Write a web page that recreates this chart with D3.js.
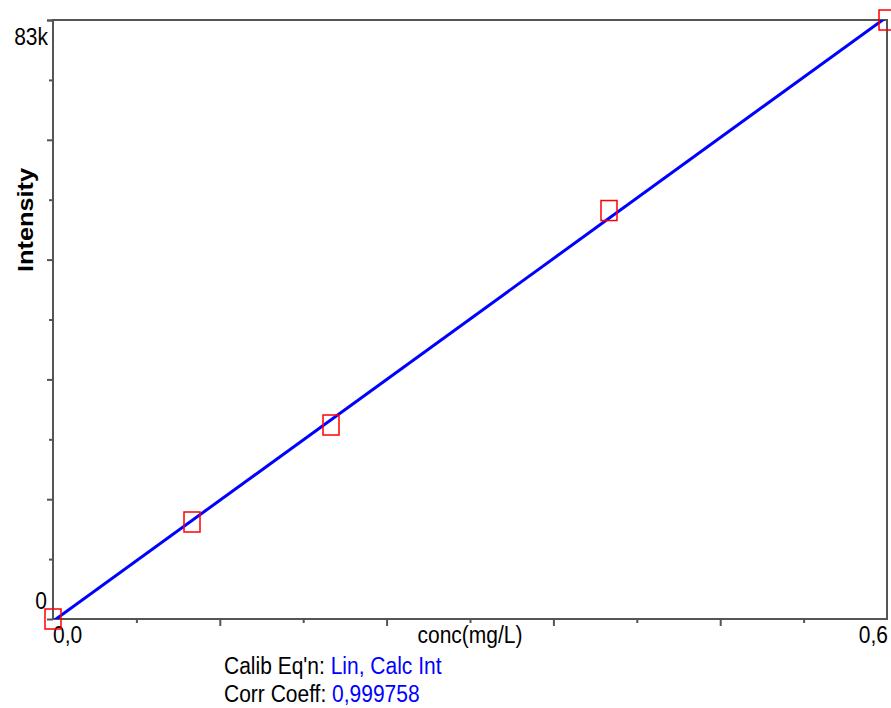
<!DOCTYPE html>
<html>
<head>
<meta charset="utf-8">
<script src="https://cdn.jsdelivr.net/npm/d3@7"></script>
<style>
    body { margin: 0; background: #fff; }
    text { font-family: "Liberation Sans", Arial, sans-serif; }
</style>
</head>
<body>
<svg id="vis"></svg>
<script>

// calibration standards
var concs = [0, 0.1, 0.2, 0.4, 0.6];
var intensities = [0, 13440, 26880, 56600, 83000];

var xTickLabels = ["0,0", "0,6"];
var yTickLabels = ["0", "83k"];
var xTitle = "conc(mg/L)";
var yTitle = "Intensity";

var infoLabels = ["Calib Eq'n: ", "Corr Coeff: "];
var infoValues = ["Lin, Calc Int", "0,999758"];


function calib_vis(){

    var width = 891,
        height = 708,
        margin = {top: 20, right: 4, bottom: 89, left: 53},
        stretch = 1.12;   // the instrument font is a bit taller than arial

    var svg = d3.select("#vis")
        .attr("width", width)
        .attr("height", height);

    //scales
    var x = d3.scaleLinear()
        .domain([0, 0.6])
        .range([margin.left, width - margin.right]);
    var y = d3.scaleLinear()
        .domain([0, 83000])
        .range([height - margin.bottom, margin.top]);

    var x0 = x.range()[0], x1 = x.range()[1],
        y0 = y.range()[0], y1 = y.range()[1];

    svg.append("defs")
        .append("clipPath")
        .attr("id", "clip")
        .append("rect")
        .attr("x", x0)
        .attr("y", y1)
        .attr("width", x1 - x0)
        .attr("height", y0 - y1);

    //ticks: every 0.06 / 8300, long ones every second step
    var xStep = 0.06, yStep = 8300;
    var xMinor = d3.range(1, 10, 2).map(function(i) {return i * xStep;});
    var xMajor = d3.range(2, 10, 2).map(function(i) {return i * xStep;});
    var yMinor = d3.range(1, 10, 2).map(function(i) {return i * yStep;});
    var yMajor = d3.range(0, 11, 2).map(function(i) {return i * yStep;}).concat([83000]);

    function tickAxis(axis, vals, size, tr){
        var g = svg.append("g")
            .attr("transform", tr)
            .call(axis.tickValues(vals).tickSize(size).tickFormat(""));
        g.select(".domain").remove();
        g.selectAll("line").attr("stroke", "#555").attr("stroke-width", 2);
    }
    tickAxis(d3.axisBottom(x), xMinor, 4, "translate(0," + y0 + ")");
    tickAxis(d3.axisBottom(x), xMajor, 7, "translate(0," + y0 + ")");
    tickAxis(d3.axisLeft(y), yMinor, 4, "translate(" + x0 + ",0)");
    tickAxis(d3.axisLeft(y), yMajor, 6, "translate(" + x0 + ",0)");

    //frame
    svg.append("rect")
        .attr("x", x0)
        .attr("y", y1)
        .attr("width", x1 - x0)
        .attr("height", y0 - y1)
        .attr("fill", "none")
        .attr("stroke", "#555")
        .attr("stroke-width", 2);

    //text helper, stretched a little vertically
    function label(str, px, py, anchor){
        return svg.append("text")
            .text(str)
            .attr("transform", "translate(" + px + "," + py + ") scale(1," + stretch + ")")
            .attr("text-anchor", anchor || "start")
            .attr("font-size", 21);
    }

    //tick labels
    label(xTickLabels[0], x(0), y0 + 24);
    label(xTickLabels[1], x(0.6) + 1, y0 + 24, "end");
    label(yTickLabels[0], x0 - 6, y(0) - 10, "end");
    label(yTickLabels[1], x0 - 5, y(83000) + 25, "end");

    //titles
    label(xTitle, (x0 + x1) / 2, y0 + 24, "middle");
    svg.append("text")
        .text(yTitle)
        .attr("transform", "translate(33,220) rotate(-90) scale(1.15,1)")
        .attr("text-anchor", "middle")
        .attr("font-size", 22)
        .attr("font-weight", "bold");

    //least squares fit line
    var mx = d3.mean(concs), my = d3.mean(intensities);
    var sxy = d3.sum(concs, function(c, i) {return (c - mx) * (intensities[i] - my);});
    var sxx = d3.sum(concs, function(c) {return (c - mx) * (c - mx);});
    var slope = sxy / sxx, icpt = my - slope * mx;

    svg.append("g")
        .attr("clip-path", "url(#clip)")
        .append("line")
        .attr("x1", x(0))
        .attr("y1", y(icpt))
        .attr("x2", x(0.6))
        .attr("y2", y(icpt + slope * 0.6))
        .attr("stroke", "#0000ff")
        .attr("stroke-width", 3);

    //standards
    svg.append("g").selectAll(".pt")
        .data(concs)
        .enter().append("rect")
        .attr("class", "pt")
        .attr("x", function(d) {return x(d) - 8;})
        .attr("y", function(d, i) {return y(intensities[i]) - 10;})
        .attr("width", 16)
        .attr("height", 20)
        .attr("fill", "none")
        .attr("stroke", "#ff0000")
        .attr("stroke-width", 1.5);

    //info under the plot
    infoLabels.forEach(function(lbl, i) {
        var t = label("", 224, 674 + i * 28);
        t.append("tspan").text(lbl).attr("fill", "#000");
        t.append("tspan").text(infoValues[i]).attr("fill", "#0000ff");
    });
}

calib_vis();
</script>
</body>
</html>
